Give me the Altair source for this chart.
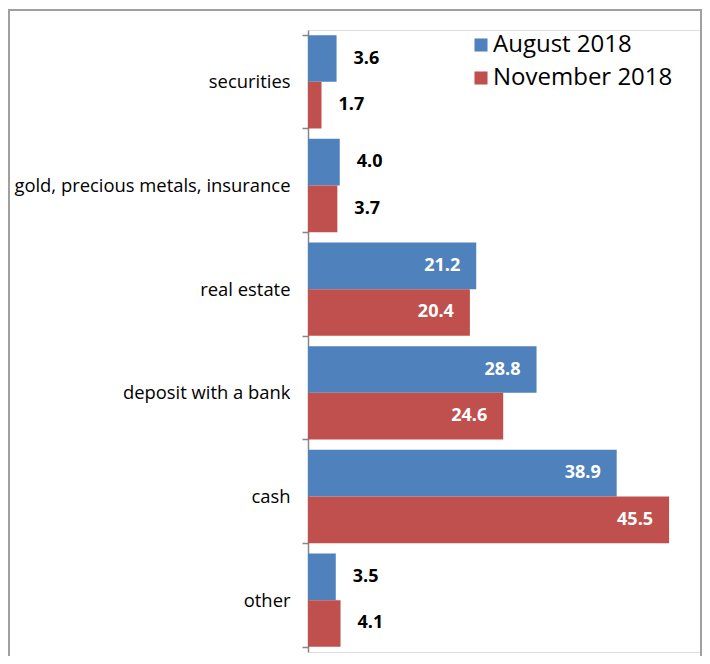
import altair as alt
import pandas as pd

categories = ["securities", "gold, precious metals, insurance", "real estate",
              "deposit with a bank", "cash", "other"]
series = ["August 2018", "November 2018"]
aug = [3.6, 4.0, 21.2, 28.8, 38.9, 3.5]
nov = [1.7, 3.7, 20.4, 24.6, 45.5, 4.1]
colors = ["#4F81BD", "#C0504D"]

rows = []
for c, a, n in zip(categories, aug, nov):
    rows.append({"category": c, "series": series[0], "value": a, "label": f"{a:.1f}"})
    rows.append({"category": c, "series": series[1], "value": n, "label": f"{n:.1f}"})
df = pd.DataFrame(rows)

W, H = 394, 622
FONT = "Open Sans"

y_enc = alt.Y("category:N", sort=categories,
              scale=alt.Scale(paddingInner=0.1, paddingOuter=0.05),
              axis=alt.Axis(title=None, domainColor="#868686", domainWidth=1.5,
                            tickColor="#868686", tickWidth=1.5, tickSize=6,
                            tickBand="extent", labelFontSize=18.4, labelFont=FONT,
                            labelColor="#000000", labelPadding=12, labelLimit=0))
yoff = alt.YOffset("series:N", sort=series,
                   scale=alt.Scale(paddingInner=0, paddingOuter=0))
x_enc = alt.X("value:Q", scale=alt.Scale(domain=[0, 49.65], nice=False, zero=True), axis=None)

base = alt.Chart(df)

bars = base.mark_bar().encode(
    y=y_enc, yOffset=yoff, x=x_enc,
    color=alt.Color("series:N", scale=alt.Scale(domain=series, range=colors),
                    legend=alt.Legend(title=None, orient="none", legendX=161, legendY=3,
                                      symbolType="square", symbolSize=170,
                                      symbolStrokeWidth=0, labelFontSize=24,
                                      labelFont=FONT, labelColor="#000000",
                                      rowPadding=9, padding=0, labelOffset=0,
                                      labelLimit=0)),
)

inside = base.transform_filter("datum.value > 10").mark_text(
    align="right", baseline="middle", dx=-16, color="white", fontWeight="bold",
    fontSize=18, font=FONT
).encode(y=alt.Y("category:N", sort=categories), yOffset=yoff, x=x_enc, text="label:N")

outside = base.transform_filter("datum.value <= 10").mark_text(
    align="left", baseline="middle", dx=17, color="black", fontWeight="bold",
    fontSize=18, font=FONT
).encode(y=alt.Y("category:N", sort=categories), yOffset=yoff, x=x_enc, text="label:N")

frame = alt.Chart(pd.DataFrame({"a": [0]})).mark_rect(
    fill=None, stroke="#A0A0A0", strokeWidth=2
).encode(x=alt.value(-299), x2=alt.value(393), y=alt.value(-20), y2=alt.value(700))

chart = alt.layer(frame, bars, inside, outside).properties(
    width=W, height=H,
    autosize=alt.AutoSizeParams(type="none"),
    padding={"left": 300, "top": 22, "right": 0, "bottom": 4},
).configure_view(stroke=None).configure(background="white")

chart.save("out.html", embed_options={"renderer": "svg", "actions": False})
